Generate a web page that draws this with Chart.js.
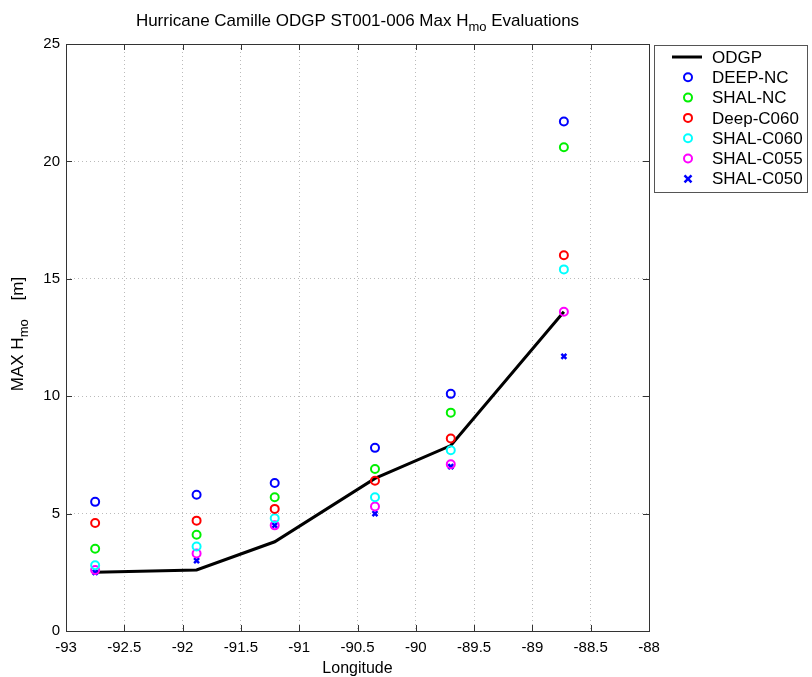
<!DOCTYPE html>
<html>
<head>
<meta charset="utf-8">
<script src="https://cdn.jsdelivr.net/npm/chart.js@4.4.1/dist/chart.umd.min.js"></script>
<style>
  html, body { margin: 0; padding: 0; background: #fff; }
  #wrap { position: relative; width: 812px; height: 677px; }
</style>
</head>
<body>
<div id="wrap"><canvas id="camille" width="812" height="677"></canvas></div>
<script>
// station longitudes (x) and max Hmo values (m)
const longitudes = [-92.75, -91.88, -91.21, -90.35, -89.70, -88.73];
const odgp      = [2.5, 2.6, 3.8, 6.5, 7.9, 13.6];
const deepNC    = [5.5, 5.8, 6.3, 7.8, 10.1, 21.7];
const shalNC    = [3.5, 4.1, 5.7, 6.9, 9.3, 20.6];
const deepC060  = [4.6, 4.7, 5.2, 6.4, 8.2, 16.0];
const shalC060  = [2.8, 3.6, 4.8, 5.7, 7.7, 15.4];
const shalC055  = [2.6, 3.3, 4.5, 5.3, 7.1, 13.6];
const shalC050  = [2.5, 3.0, 4.5, 5.0, 7.0, 11.7];

const xTicks = [-93, -92.5, -92, -91.5, -91, -90.5, -90, -89.5, -89, -88.5, -88];
const yTicks = [0, 5, 10, 15, 20, 25];

const FONT = "'Liberation Sans', Arial, sans-serif";

const pts = (ys) => longitudes.map((x, i) => ({ x, y: ys[i] }));

function markerSet(label, ys, color, style) {
  return {
    label,
    data: pts(ys),
    showLine: false,
    pointStyle: style || "circle",
    pointRadius: style ? 3.5 : 4,
    pointBorderWidth: style ? 2.5 : 2,
    borderColor: color,
    backgroundColor: "rgba(0,0,0,0)",
    pointBackgroundColor: "rgba(0,0,0,0)",
    order: 0
  };
}

const datasets = [
  {
    label: "ODGP",
    data: pts(odgp),
    showLine: true,
    borderColor: "#000",
    borderWidth: 3,
    pointRadius: 0,
    fill: false,
    order: 5
  },
  markerSet("DEEP-NC", deepNC, "#0000ff"),
  markerSet("SHAL-NC", shalNC, "#00f000"),
  markerSet("Deep-C060", deepC060, "#ff0000"),
  markerSet("SHAL-C060", shalC060, "#00ffff"),
  markerSet("SHAL-C055", shalC055, "#ff00ff"),
  markerSet("SHAL-C050", shalC050, "#0000ff", "crossRot")
];

// draws text pieces in a row, some as subscripts
function drawParts(ctx, parts, x, y) {
  parts.forEach(p => {
    ctx.font = p.font;
    ctx.fillText(p.text, x, y + (p.dy || 0));
    x += ctx.measureText(p.text).width;
  });
}
function partsWidth(ctx, parts) {
  return parts.reduce((w, p) => { ctx.font = p.font; return w + ctx.measureText(p.text).width; }, 0);
}

// title, y label (with subscripts), axes box, inward ticks, legend box
const decorations = {
  id: "decorations",
  afterDatasetsDraw(chart) {
    const { ctx, chartArea: a, scales } = chart;
    ctx.save();
    ctx.strokeStyle = "#333";
    ctx.lineWidth = 1;
    ctx.strokeRect(Math.round(a.left) + 0.5, Math.round(a.top) + 0.5,
                   Math.round(a.right - a.left), Math.round(a.bottom - a.top));
    // inward tick marks
    ctx.beginPath();
    xTicks.forEach(v => {
      const px = Math.round(scales.x.getPixelForValue(v)) + 0.5;
      ctx.moveTo(px, a.bottom); ctx.lineTo(px, a.bottom - 6);
      ctx.moveTo(px, a.top); ctx.lineTo(px, a.top + 6);
    });
    yTicks.forEach(v => {
      const py = Math.round(scales.y.getPixelForValue(v)) + 0.5;
      ctx.moveTo(a.left, py); ctx.lineTo(a.left + 6, py);
      ctx.moveTo(a.right, py); ctx.lineTo(a.right - 6, py);
    });
    ctx.stroke();
    ctx.restore();
  },
  afterDraw(chart) {
    const { ctx, chartArea: a } = chart;
    ctx.save();
    ctx.fillStyle = "#000";
    ctx.textBaseline = "alphabetic";
    ctx.textAlign = "left";

    const big = "17px " + FONT, small = "13px " + FONT;

    // title
    const title = [
      { text: "Hurricane Camille ODGP ST001-006 Max H", font: big },
      { text: "mo", font: small, dy: 5 },
      { text: " Evaluations", font: big }
    ];
    drawParts(ctx, title, (a.left + a.right) / 2 - partsWidth(ctx, title) / 2, 26);

    // x label
    ctx.font = "16px " + FONT; ctx.textAlign = "center";
    ctx.fillText("Longitude", (a.left + a.right) / 2, 673);
    ctx.textAlign = "left";

    // y label, rotated
    const ylab = [
      { text: "MAX H", font: "17px " + FONT },
      { text: "mo", font: "13px " + FONT, dy: 5 },
      { text: "    [m]", font: "17px " + FONT }
    ];
    ctx.save();
    ctx.translate(23, 334);
    ctx.rotate(-Math.PI / 2);
    drawParts(ctx, ylab, -partsWidth(ctx, ylab) / 2, 0);
    ctx.restore();

    // legend
    const lx = 654.5, ly = 45.5, lw = 153, lh = 147;
    ctx.fillStyle = "#fff";
    ctx.fillRect(lx, ly, lw, lh);
    ctx.strokeStyle = "#555"; ctx.lineWidth = 1;
    ctx.strokeRect(lx, ly, lw, lh);
    ctx.font = "17px " + FONT;
    ctx.textBaseline = "middle";
    chart.data.datasets.forEach((ds, i) => {
      const ry = 57 + i * 20.3;
      ctx.strokeStyle = ds.borderColor;
      ctx.beginPath();
      if (ds.showLine) {
        ctx.lineWidth = 3;
        ctx.moveTo(672, ry); ctx.lineTo(702, ry);
      } else if (ds.pointStyle === "circle") {
        ctx.lineWidth = 2;
        ctx.arc(688, ry, ds.pointRadius, 0, Math.PI * 2);
      } else {
        const r = ds.pointRadius;
        ctx.lineWidth = ds.pointBorderWidth;
        ctx.moveTo(688 - r, ry - r); ctx.lineTo(688 + r, ry + r);
        ctx.moveTo(688 + r, ry - r); ctx.lineTo(688 - r, ry + r);
      }
      ctx.stroke();
      ctx.fillStyle = "#000";
      ctx.fillText(ds.label, 712, ry + 1);
    });
    ctx.restore();
  }
};

new Chart(document.getElementById("camille").getContext("2d"), {
  type: "scatter",
  data: { datasets },
  options: {
    responsive: false,
    animation: false,
    layout: { padding: { top: 44, right: 163, bottom: 0, left: 0 } },
    scales: {
      x: {
        type: "linear",
        min: -93, max: -88,
        afterFit: (s) => { s.height = 46; },
        afterBuildTicks: (s) => { s.ticks = xTicks.map(v => ({ value: v })); },
        ticks: { color: "#000", font: { family: FONT, size: 15 }, padding: 8, maxRotation: 0,
                 callback: (v) => String(v) },
        grid: { color: "#bbb", drawTicks: false, lineWidth: 1 },
        border: { display: false, dash: [1, 3] }
      },
      y: {
        type: "linear",
        min: 0, max: 25,
        afterFit: (s) => { s.width = 66; },
        afterBuildTicks: (s) => { s.ticks = yTicks.map(v => ({ value: v })); },
        ticks: { color: "#000", font: { family: FONT, size: 15 }, padding: 6,
                 callback: (v) => String(v) },
        grid: { color: "#bbb", drawTicks: false, lineWidth: 1 },
        border: { display: false, dash: [1, 3] }
      }
    },
    plugins: { legend: { display: false }, title: { display: false }, tooltip: { enabled: false } }
  },
  plugins: [decorations]
});
</script>
</body>
</html>
